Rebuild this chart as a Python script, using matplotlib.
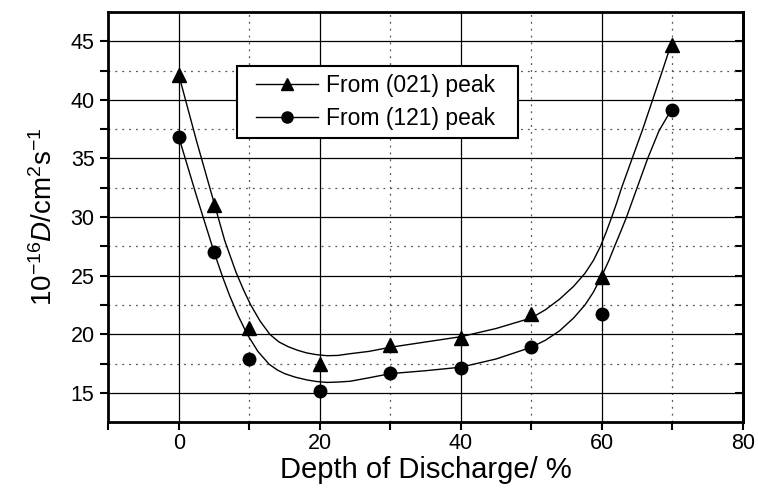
import matplotlib.pyplot as plt
from matplotlib.lines import Line2D
from matplotlib.legend_handler import HandlerLine2D

plt.rcParams['font.family'] = ['Liberation Sans', 'DejaVu Sans']
plt.rcParams['mathtext.fontset'] = 'custom'
plt.rcParams['mathtext.rm'] = 'Liberation Sans'
plt.rcParams['mathtext.it'] = 'Liberation Sans:italic'

# measured points
dod = [0, 5, 10, 20, 30, 40, 50, 60, 70]
d_021 = [42.1, 31.0, 20.5, 17.5, 19.1, 19.7, 21.7, 24.9, 44.7]
d_121 = [36.8, 27.0, 17.9, 15.2, 16.7, 17.1, 18.9, 21.7, 39.1]

# fitted curves
fit_x_021 = [0, 2.5, 5, 6.5, 8.1, 9.2, 10.2, 11.5, 12.9, 14.2, 15.5, 16.8, 18.1, 19.5, 21,
             22.5, 24.3, 27, 30, 35, 40, 45, 50, 52, 54, 56, 57.6, 58.8, 59.8, 60.6, 61.4,
             62.1, 62.8, 64.3, 65.8, 67.2, 68.6, 69.8]
fit_y_021 = [42.1, 36.5, 31.2, 28.0, 25.3, 23.75, 22.5, 21.15, 20.0, 19.35, 18.95, 18.65, 18.42,
             18.27, 18.18, 18.2, 18.35, 18.55, 18.9, 19.35, 19.8, 20.5, 21.4, 22.1, 23.0, 24.1,
             25.2, 26.3, 27.5, 28.7, 30.0, 31.2, 32.5, 35.0, 37.5, 40.0, 42.5, 44.7]
fit_x_121 = [0, 2.5, 5, 6.2, 7.2, 8.4, 9.7, 11.2, 12.8, 14.0, 15.0, 16.5, 18.1, 19.5, 21,
             22.5, 24.3, 27, 30, 35, 40, 45, 50, 52, 54, 56, 57.6, 58.8, 60, 61, 61.8, 62.7,
             63.5, 65, 66.5, 68.1, 69.8]
fit_y_121 = [36.8, 31.8, 27.0, 24.9, 23.3, 21.6, 20.0, 18.55, 17.45, 16.95, 16.65, 16.35, 16.12,
             15.98, 15.9, 15.93, 16.0, 16.3, 16.65, 16.9, 17.2, 17.9, 18.9, 19.5, 20.3, 21.4,
             22.5, 23.6, 25.0, 26.3, 27.5, 28.8, 30.0, 32.5, 35.0, 37.35, 39.1]

fig = plt.figure(figsize=(7.58, 4.96), dpi=100)
ax = fig.add_axes([0.143, 0.1486, 0.837, 0.8274])

ax.plot(fit_x_021, fit_y_021, color='black', lw=1.0, zorder=3)
ax.plot(fit_x_121, fit_y_121, color='black', lw=1.0, zorder=3)
ax.plot(dod, d_021, ls='none', marker='^', ms=10, color='black', zorder=4)
ax.plot(dod, d_121, ls='none', marker='o', ms=9, color='black', zorder=4)

ax.set_xlim(-10, 80)
ax.set_ylim(12.5, 47.5)
ax.set_xticks([0, 20, 40, 60, 80])
ax.set_xticks([-10, 10, 30, 50, 70], minor=True)
ax.set_yticks([15, 20, 25, 30, 35, 40, 45])
ax.set_yticks([17.5, 22.5, 27.5, 32.5, 37.5, 42.5], minor=True)

ax.grid(which='major', color='black', lw=0.9)
ax.grid(which='minor', color='#555555', lw=0.9, ls=(0, (1.5, 4)))
ax.set_axisbelow(True)

ax.tick_params(which='both', direction='out', length=6, width=1.5, labelsize=15.5,
               top=False, right=False)
ax.tick_params(axis='y', pad=4)
ax.tick_params(axis='x', pad=2)
for s in ax.spines.values():
    s.set_linewidth(2)

# inward ticks on the right side
ax2 = ax.secondary_yaxis('right')
ax2.set_yticks([15, 20, 25, 30, 35, 40, 45])
ax2.set_yticks([17.5, 22.5, 27.5, 32.5, 37.5, 42.5], minor=True)
ax2.tick_params(which='both', direction='in', length=6, width=1.5, labelright=False)
ax2.spines['right'].set_linewidth(2)

ax.set_xlabel('Depth of Discharge/ %', fontsize=21, labelpad=1)
ax.set_ylabel(r'10$^{-16}$$D$/cm$^{2}$s$^{-1}$', fontsize=20, labelpad=9)

handles = [Line2D([], [], color='black', lw=1.0, marker='^', ms=9),
           Line2D([], [], color='black', lw=1.0, marker='o', ms=8)]
leg = ax.legend(handles, ['From (021) peak', 'From (121) peak'],
                loc='upper left', bbox_to_anchor=(0.202, 0.702, 0.444, 0.167),
                mode='expand', fontsize=16.5,
                handler_map={Line2D: HandlerLine2D(xpad=0.5)},
                frameon=True, fancybox=False, handlelength=3.2, borderpad=0.35,
                labelspacing=0.45, handletextpad=0.35, borderaxespad=0)
leg.get_frame().set_edgecolor('black')
leg.get_frame().set_linewidth(1.5)
leg.get_frame().set_alpha(1)

fig.savefig('out.png', dpi=100)
